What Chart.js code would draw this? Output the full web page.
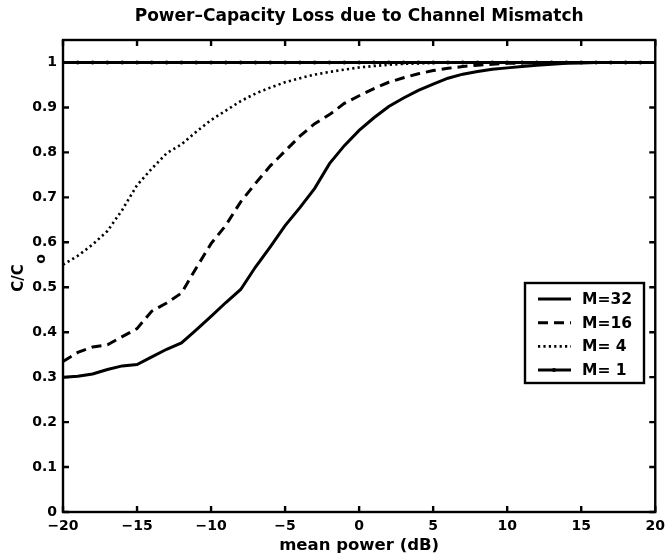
<!DOCTYPE html>
<html>
<head>
<meta charset="utf-8">
<script src="https://cdn.jsdelivr.net/npm/chart.js@4/dist/chart.umd.min.js"></script>
<style>
  body { margin: 0; background: #fff; }
  #wrap { width: 671px; height: 558px; position: relative; }
</style>
</head>
<body>
<div id="wrap"><canvas id="myChart"></canvas></div>
<script>
// DATA
const powerDb = [-20, -19, -18, -17, -16, -15, -14, -13, -12, -11, -10, -9, -8, -7, -6, -5, -4, -3, -2, -1,
                 0, 1, 2, 3, 4, 5, 6, 7, 8, 9, 10, 11, 12, 13, 14, 15, 16, 17, 18, 19, 20];
const m32 = [0.300, 0.302, 0.307, 0.317, 0.325, 0.328, 0.345, 0.362, 0.376, 0.405, 0.435, 0.466, 0.495, 0.545, 0.590, 0.637, 0.677, 0.720, 0.775, 0.815,
             0.849, 0.877, 0.902, 0.921, 0.938, 0.952, 0.965, 0.974, 0.980, 0.985, 0.988, 0.991, 0.994, 0.996, 0.998, 0.999, 1, 1, 1, 1, 1];
const m16 = [0.335, 0.355, 0.367, 0.372, 0.390, 0.408, 0.447, 0.465, 0.487, 0.543, 0.597, 0.638, 0.690, 0.731, 0.770, 0.803, 0.836, 0.864, 0.884, 0.909,
             0.926, 0.942, 0.956, 0.966, 0.975, 0.982, 0.987, 0.991, 0.994, 0.996, 0.998, 0.999, 1, 1, 1, 1, 1, 1, 1, 1, 1];
const m4  = [0.550, 0.570, 0.595, 0.625, 0.672, 0.727, 0.764, 0.798, 0.818, 0.846, 0.872, 0.893, 0.914, 0.931, 0.944, 0.956, 0.965, 0.973, 0.979, 0.984,
             0.989, 0.992, 0.995, 0.997, 0.998, 0.999, 1, 1, 1, 1, 1, 1, 1, 1, 1, 1, 1, 1, 1, 1, 1];
const m1  = [1, 1, 1, 1, 1, 1, 1, 1, 1, 1, 1, 1, 1, 1, 1, 1, 1, 1, 1, 1,
             1, 1, 1, 1, 1, 1, 1, 1, 1, 1, 1, 1, 1, 1, 1, 1, 1, 1, 1, 1, 1];
const seriesLabels = ['M=32', 'M=16', 'M= 4', 'M= 1'];
const xTicks = [-20, -15, -10, -5, 0, 5, 10, 15, 20];
const yTicks = [0, 0.1, 0.2, 0.3, 0.4, 0.5, 0.6, 0.7, 0.8, 0.9, 1];
const chartTitle = 'Power–Capacity Loss due to Channel Mismatch';

const FONT = '"DejaVu Sans", Verdana, sans-serif';

function pts(ys) {
  return powerDb.map((x, i) => ({ x: x, y: ys[i] }));
}

// frame, inward ticks, title, y title with subscript, legend box
const matlabLook = {
  id: 'matlabLook',
  afterDatasetsDraw(chart) {
    const c = chart.ctx;
    const a = chart.chartArea;
    const xs = chart.scales.x, ys = chart.scales.y;
    c.save();
    c.strokeStyle = '#000';
    c.lineWidth = 2.4;
    c.strokeRect(a.left, a.top, a.right - a.left, a.bottom - a.top);
    c.beginPath();
    xTicks.forEach(v => {
      const p = xs.getPixelForValue(v);
      c.moveTo(p, a.bottom); c.lineTo(p, a.bottom - 6);
      c.moveTo(p, a.top); c.lineTo(p, a.top + 6);
    });
    yTicks.forEach(v => {
      const p = ys.getPixelForValue(v);
      c.moveTo(a.left, p); c.lineTo(a.left + 6, p);
      c.moveTo(a.right, p); c.lineTo(a.right - 6, p);
    });
    c.stroke();

    // title, centred over the plot box
    c.fillStyle = '#000';
    c.font = 'bold 17px ' + FONT;
    c.textAlign = 'center';
    c.textBaseline = 'middle';
    c.fillText(chartTitle, (a.left + a.right) / 2, 17);

    // y axis title C/Co
    c.save();
    c.translate(19, 278);
    c.rotate(-Math.PI / 2);
    c.font = 'bold 15px ' + FONT;
    c.textAlign = 'center';
    c.fillText('C/C', 0, 0);
    c.font = 'bold 14px ' + FONT;
    c.fillText('o', 19, 22);
    c.restore();

    // legend
    const bx = 525, by = 283, bw = 119, bh = 100;
    c.fillStyle = '#fff';
    c.fillRect(bx, by, bw, bh);
    c.lineWidth = 2.4;
    c.strokeRect(bx, by, bw, bh);
    c.font = 'bold 15.5px ' + FONT;
    c.textBaseline = 'middle';
    c.textAlign = 'left';
    chart.data.datasets.forEach((ds, i) => {
      const yy = by + 16 + i * 23.7;
      c.save();
      c.strokeStyle = '#000';
      c.lineWidth = ds.borderWidth;
      c.setLineDash(ds.borderDash || []);
      c.beginPath();
      c.moveTo(538, yy); c.lineTo(571, yy);
      c.stroke();
      c.restore();
      if (ds.pointRadius > 0) {
        c.beginPath();
        c.arc(554, yy, ds.pointRadius, 0, Math.PI * 2);
        c.fillStyle = '#000';
        c.fill();
      }
      c.fillStyle = '#000';
      c.fillText(ds.label, 582, yy + 1);
    });
    c.restore();
  }
};

const ctx = document.getElementById('myChart').getContext('2d');
Chart.defaults.color = '#000';
Chart.defaults.font.family = FONT;

const myChart = new Chart(ctx, {
  type: 'line',
  data: {
    datasets: [
      { label: seriesLabels[0], data: pts(m32), borderColor: '#000', borderWidth: 3, pointRadius: 0, fill: false },
      { label: seriesLabels[1], data: pts(m16), borderColor: '#000', borderWidth: 3, borderDash: [10, 6], pointRadius: 0, fill: false },
      { label: seriesLabels[2], data: pts(m4), borderColor: '#000', borderWidth: 2.6, borderDash: [2.2, 3.2], pointRadius: 0, fill: false },
      { label: seriesLabels[3], data: pts(m1), borderColor: '#000', borderWidth: 3, pointRadius: 2,
        pointBackgroundColor: '#000', pointBorderWidth: 0, fill: false }
    ]
  },
  options: {
    responsive: true,
    maintainAspectRatio: false,
    animation: false,
    events: [],
    layout: { padding: { left: 0, right: 13, top: 40, bottom: 0 } },
    plugins: {
      legend: { display: false },
      tooltip: { enabled: false },
      title: { display: false }
    },
    scales: {
      x: {
        type: 'linear',
        min: -20, max: 20,
        afterBuildTicks: s => { s.ticks = xTicks.map(v => ({ value: v })); },
        afterFit: s => { s.height = 46; },
        grid: { display: false, drawTicks: false },
        border: { display: false },
        ticks: {
          font: { size: 14, weight: 'bold' },
          padding: 6,
          maxRotation: 0,
          callback: v => (v < 0 ? '−' + Math.abs(v) : String(v))
        },
        title: {
          display: true,
          text: 'mean power (dB)',
          font: { size: 16.5, weight: 'bold' },
          padding: { top: 0, bottom: 2 }
        }
      },
      y: {
        type: 'linear',
        min: 0, max: 1.05,
        afterBuildTicks: s => { s.ticks = yTicks.map(v => ({ value: v })); },
        afterFit: s => { s.width = 63; },
        grid: { display: false, drawTicks: false },
        border: { display: false },
        ticks: {
          font: { size: 14, weight: 'bold' },
          padding: 6,
          callback: v => String(Number(v.toFixed(2)))
        }
      }
    }
  },
  plugins: [matlabLook]
});
</script>
</body>
</html>
